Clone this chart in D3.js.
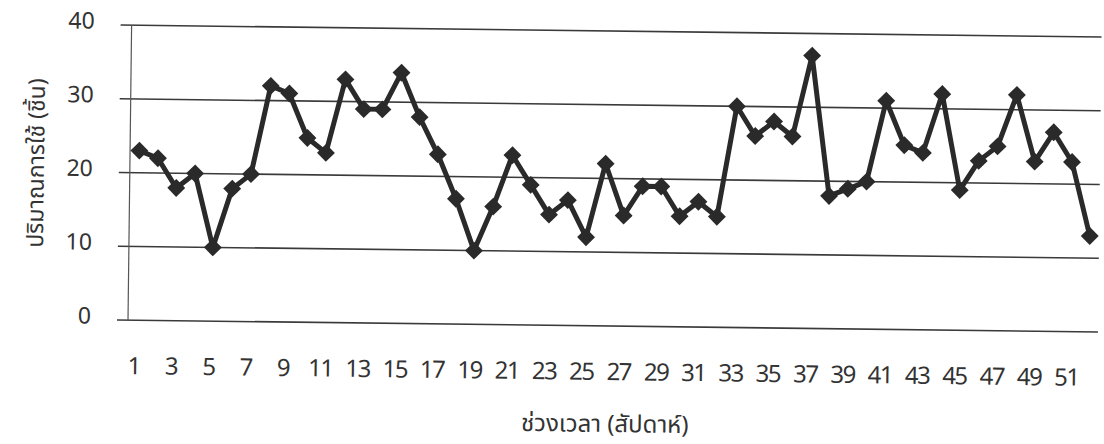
<!DOCTYPE html>
<html>
<head>
<meta charset="utf-8">
<script src="https://cdnjs.cloudflare.com/ajax/libs/d3/7.8.5/d3.min.js"></script>
<style>
  body { margin: 0; background: #fff; }
  text { font-family: "Noto Sans", "Noto Sans Thai", "DejaVu Sans", sans-serif; fill: #333; }
</style>
</head>
<body>
<svg id="chart" width="1104" height="444"></svg>
<script>
// Step-1 : data //
var weeks = [1, 2, 3, 4, 5, 6, 7, 8, 9, 10, 11, 12, 13, 14, 15, 16, 17, 18, 19, 20, 21, 22, 23, 24, 25, 26,
  27, 28, 29, 30, 31, 32, 33, 34, 35, 36, 37, 38, 39, 40, 41, 42, 43, 44, 45, 46, 47, 48, 49, 50, 51, 52];
var usage = [23, 22, 18, 20, 10, 18, 20, 32, 31, 25, 23, 33, 29, 29, 34, 28, 23, 17, 10, 16, 23, 19, 15, 17, 12, 22,
  15, 19, 19, 15, 17, 15, 30, 26, 28, 26, 37, 18, 19, 20, 31, 25, 24, 32, 19, 23, 25, 32, 23, 27, 23, 13];
var yTicks = [0, 10, 20, 30, 40];
var xTickLabels = [1, 3, 5, 7, 9, 11, 13, 15, 17, 19, 21, 23, 25, 27, 29, 31, 33, 35, 37, 39, 41, 43, 45, 47, 49, 51];
var yTitle = "ปริมาณการใช้ (ชิ้น)";
var xTitle = "ช่วงเวลา (สัปดาห์)";

main();

function main() {

  var svg = d3.select("#chart"),
    margin = { top: 25, left: 128, bottom: 124, right: 6 },
    width = +svg.attr("width"),
    height = +svg.attr("height");

  // the scan is a little tilted, so the whole chart is turned a bit
  var g = svg.append("g")
    .attr("transform", "rotate(0.7, 117, " + (height - margin.bottom) + ")");

  var x = d3.scaleBand()
    .domain(weeks)
    .range([margin.left, width - margin.right]);

  var y = d3.scaleLinear()
    .domain([0, 40])
    .range([height - margin.bottom, margin.top]);

  // gridlines
  g.append("g")
    .selectAll("line")
    .data(yTicks)
    .enter().append("line")
    .attr("x1", margin.left - 11)
    .attr("x2", width - margin.right)
    .attr("y1", d => y(d))
    .attr("y2", d => y(d))
    .attr("stroke", "#3a3a3a")
    .attr("stroke-width", 1.6);

  // value axis line
  g.append("line")
    .attr("x1", margin.left)
    .attr("x2", margin.left)
    .attr("y1", y(40))
    .attr("y2", y(0))
    .attr("stroke", "#555")
    .attr("stroke-width", 1.2);

  // y tick labels
  g.append("g")
    .selectAll("text")
    .data(yTicks)
    .enter().append("text")
    .attr("x", 91)
    .attr("y", d => y(d) + 4)
    .attr("text-anchor", "end")
    .style("font-size", "23px")
    .text(d => d);

  // x tick labels
  g.append("g")
    .selectAll("text")
    .data(xTickLabels)
    .enter().append("text")
    .attr("x", d => x(d) + x.bandwidth() / 2 - 3)
    .attr("y", 374)
    .attr("text-anchor", "middle")
    .style("font-size", "24px")
    .style("letter-spacing", "-1.5px")
    .text(d => d);

  // axis titles
  g.append("text")
    .attr("transform", "translate(42,164) rotate(-90)")
    .attr("text-anchor", "middle")
    .style("font-size", "23px")
    .text(yTitle);

  g.append("text")
    .attr("x", 606)
    .attr("y", 426)
    .attr("text-anchor", "middle")
    .style("font-size", "24px")
    .text(xTitle);

  // line
  var line = d3.line()
    .x((d, i) => x(weeks[i]) + x.bandwidth() / 2)
    .y(d => y(d));

  g.append("path")
    .datum(usage)
    .attr("d", line)
    .attr("fill", "none")
    .attr("stroke", "#2a2a2a")
    .attr("stroke-width", 5)
    .attr("stroke-linejoin", "round");

  // diamond markers
  var marker = d3.symbol().type(d3.symbolSquare).size(160);

  g.append("g")
    .selectAll("path")
    .data(usage)
    .enter().append("path")
    .attr("d", marker)
    .attr("transform", (d, i) => "translate(" + (x(weeks[i]) + x.bandwidth() / 2) + "," + y(d) + ") rotate(45)")
    .attr("fill", "#2a2a2a");

}
</script>
</body>
</html>
